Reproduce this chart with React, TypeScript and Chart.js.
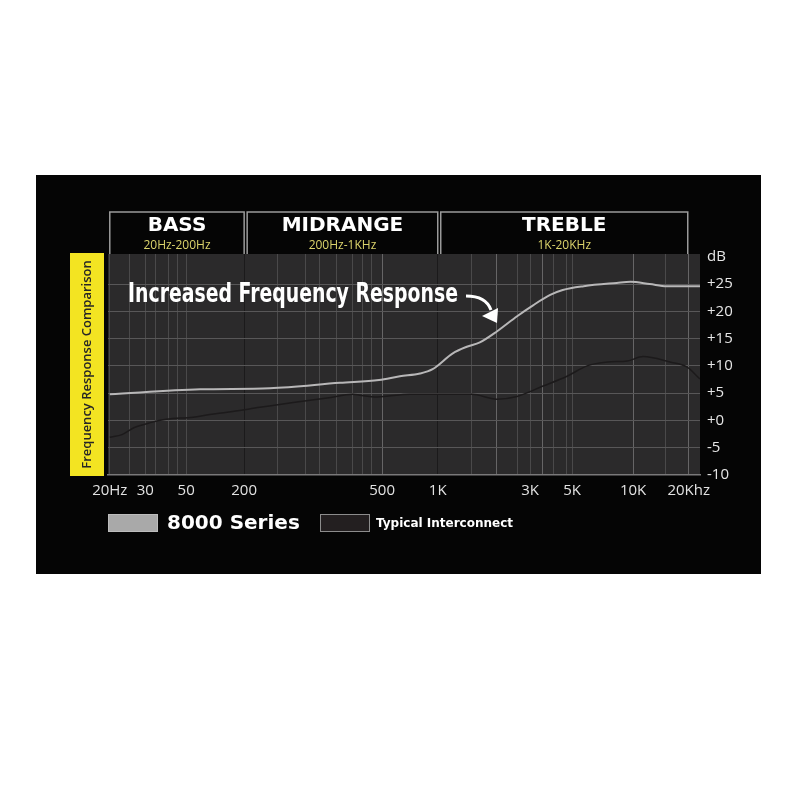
import { useEffect, useRef } from 'react';
import { Chart, registerables } from 'chart.js';

Chart.register(...registerables);

// The frequency axis is a hand-drawn, stretched log scale: labelled
// frequencies are pinned to positions (0-100 across the plot width).
const AXIS_FREQS = [20, 30, 50, 200, 500, 1000, 3000, 5000, 10000, 20000];
const AXIS_POS = [0.3, 6.3, 13.2, 23.0, 46.3, 55.7, 71.3, 78.4, 88.7, 98.1];
const AXIS_LABELS = ['20Hz', '30', '50', '200', '500', '1K', '3K', '5K', '10K', '20Khz'];
const GRID_FREQS = [
  20, 25, 30, 34, 40, 45, 50, 200, 250, 300, 330, 370, 410, 440, 465, 500,
  1000, 1500, 2000, 2570, 3000, 3500, 4000, 4650, 5000, 10000, 15000, 20000,
];

const DB_TICKS = [-10, -5, 0, 5, 10, 15, 20, 25, 30];
const DB_LABELS = ['-10', '-5', '+0', '+5', '+10', '+15', '+20', '+25', 'dB'];

// 8000 Series response
const SERIES_FREQS = [20, 70, 237, 378, 490, 624, 801, 938, 1196, 1413, 1650, 2020, 2570, 3110, 3830, 4460, 5700, 8300, 9700, 12300, 15200, 23000];
const SERIES_DB = [4.8, 5.7, 5.9, 6.9, 7.4, 8.1, 8.6, 9.4, 12.3, 13.5, 14.3, 16.3, 19.1, 21.1, 23.0, 23.9, 24.6, 25.2, 25.4, 25.0, 24.6, 24.6];

// Typical interconnect response
const TYPICAL_FREQS = [20, 23, 26.5, 32, 39, 59, 88, 133, 222, 277, 347, 412, 432, 484, 707, 1500, 2020, 2570, 3510, 4700, 5930, 7490, 9350, 11320, 15810, 19510, 23000];
const TYPICAL_DB = [-3.1, -2.6, -1.3, -0.4, 0.2, 0.6, 1.1, 1.5, 2.4, 3.3, 4.1, 4.8, 4.6, 4.3, 4.8, 4.8, 3.9, 4.4, 6.3, 8.1, 10.0, 10.7, 10.9, 11.7, 10.7, 9.8, 7.6];

const BAND_NAMES = ['BASS', 'MIDRANGE', 'TREBLE'];
const BAND_RANGES = ['20Hz-200Hz', '200Hz-1KHz', '1K-20KHz'];
const BAND_EDGES = [20, 200, 1000, 20000];

const SIDE_TITLE = 'Frequency Response Comparison';
const CALLOUT = 'Increased Frequency Response';

function freqToPos(f: number) {
  let i = 0;
  while (i < AXIS_FREQS.length - 2 && f > AXIS_FREQS[i + 1]) i++;
  const t = Math.log(f / AXIS_FREQS[i]) / Math.log(AXIS_FREQS[i + 1] / AXIS_FREQS[i]);
  return AXIS_POS[i] + t * (AXIS_POS[i + 1] - AXIS_POS[i]);
}

const xLabel = (f: number) => {
  const k = AXIS_FREQS.indexOf(f);
  return k >= 0 ? AXIS_LABELS[k] : '';
};

const xGridColor = (f: number) => {
  if (f === 200 || f === 1000) return '#1b1a1b';
  if (f === 500 || f === 2000 || f === 3500 || f === 10000 || f === 20000) return '#666566';
  return '#4a494a';
};

const decorPlugin = {
  id: 'decor',
  beforeDraw(chart: any) {
    const { ctx, chartArea: a, scales } = chart;
    const x = scales.x;
    ctx.save();
    ctx.fillStyle = '#ffffff';
    ctx.fillRect(0, 0, chart.width, chart.height);
    // black panel
    ctx.fillStyle = '#050505';
    ctx.fillRect(a.left - 72, a.top - 79, a.right - a.left + 133, a.bottom - a.top + 178);
    // plot background
    ctx.fillStyle = '#2b2a2b';
    ctx.fillRect(a.left, a.top, a.right - a.left, a.bottom - a.top);

    // yellow side strip
    ctx.fillStyle = '#f3e422';
    ctx.fillRect(a.left - 38, a.top - 1, 34, a.bottom - a.top + 2);
    ctx.save();
    ctx.translate(a.left - 21, (a.top + a.bottom) / 2);
    ctx.rotate(-Math.PI / 2);
    ctx.fillStyle = '#262626';
    ctx.font = '600 13px "Open Sans"';
    ctx.textAlign = 'center';
    ctx.textBaseline = 'middle';
    ctx.fillText(SIDE_TITLE, 0, 0);
    ctx.restore();

    // band header boxes
    const top = a.top - 42;
    BAND_NAMES.forEach((name, i) => {
      const l = x.getPixelForValue(freqToPos(BAND_EDGES[i])) + (i > 0 ? 3 : 0);
      const r = x.getPixelForValue(freqToPos(BAND_EDGES[i + 1])) - (i < BAND_NAMES.length - 1 ? 0 : 1);
      ctx.strokeStyle = '#9a9a9a';
      ctx.lineWidth = 1.5;
      ctx.beginPath();
      ctx.moveTo(l, a.top);
      ctx.lineTo(l, top);
      ctx.lineTo(r, top);
      ctx.lineTo(r, a.top);
      ctx.stroke();
      const cx = (l + r) / 2;
      ctx.textAlign = 'center';
      ctx.textBaseline = 'middle';
      ctx.fillStyle = '#ffffff';
      ctx.font = 'bold 20px "DejaVu Sans"';
      ctx.fillText(name, cx, top + 14);
      ctx.fillStyle = '#dcd46c';
      ctx.font = '12px "Open Sans"';
      ctx.fillText(BAND_RANGES[i], cx, top + 34);
    });
    ctx.restore();
  },
  afterDraw(chart: any) {
    const { ctx, chartArea: a } = chart;
    ctx.save();

    // callout text, squeezed to a condensed look
    ctx.font = 'bold 27px "Liberation Sans Narrow", "DejaVu Sans Condensed", "DejaVu Sans"';
    const w = ctx.measureText(CALLOUT).width;
    const target = 330;
    const tx = a.left + 20;
    const ty = a.top + 48;
    ctx.save();
    ctx.translate(tx, ty);
    ctx.scale(target / w, 1);
    ctx.fillStyle = '#ffffff';
    ctx.textBaseline = 'alphabetic';
    ctx.textAlign = 'left';
    ctx.fillText(CALLOUT, 0, 0);
    ctx.restore();

    // curved arrow to the rising curve
    const ax = tx + target + 8;
    const ay = ty - 6;
    ctx.strokeStyle = '#ffffff';
    ctx.fillStyle = '#ffffff';
    ctx.lineWidth = 3;
    ctx.beginPath();
    ctx.moveTo(ax, ay);
    ctx.quadraticCurveTo(ax + 20, ay, ax + 25, ay + 14);
    ctx.stroke();
    ctx.beginPath();
    ctx.moveTo(ax + 16, ay + 20);
    ctx.lineTo(ax + 32, ay + 12);
    ctx.lineTo(ax + 31, ay + 27);
    ctx.closePath();
    ctx.fill();

    // legend
    const ly = a.bottom + 39;
    const ds = chart.data.datasets;
    const itemX = [a.left, a.left + 212];
    const fonts = ['bold 20px "DejaVu Sans"', 'bold 12px "DejaVu Sans"'];
    ds.forEach((d: any, i: number) => {
      ctx.fillStyle = d.backgroundColor;
      ctx.fillRect(itemX[i], ly, 50, 18);
      ctx.strokeStyle = i === 0 ? '#bdbdbd' : '#8c8c8c';
      ctx.lineWidth = 1;
      ctx.strokeRect(itemX[i] + 0.5, ly + 0.5, 49, 17);
      ctx.fillStyle = '#ffffff';
      ctx.font = fonts[i];
      ctx.textAlign = 'left';
      ctx.textBaseline = 'middle';
      ctx.fillText(d.label, itemX[i] + (i === 0 ? 59 : 56), ly + 10);
    });
    ctx.restore();
  },
};

export default function App() {
  const canvasRef = useRef<HTMLCanvasElement | null>(null);
  const chartInstance = useRef<Chart | null>(null);

  useEffect(() => {
    if (!canvasRef.current) return;

    chartInstance.current = new Chart(canvasRef.current, {
      type: 'line',
      data: {
        datasets: [
          {
            label: '8000 Series',
            data: SERIES_FREQS.map((f, i) => ({ x: freqToPos(f), y: SERIES_DB[i] })),
            borderColor: '#b8b7b8',
            backgroundColor: '#a9a9a9',
            borderWidth: 2,
            pointRadius: 0,
            cubicInterpolationMode: 'monotone',
          },
          {
            label: 'Typical Interconnect',
            data: TYPICAL_FREQS.map((f, i) => ({ x: freqToPos(f), y: TYPICAL_DB[i] })),
            borderColor: '#1c1a1b',
            backgroundColor: '#231f20',
            borderWidth: 1.5,
            pointRadius: 0,
            cubicInterpolationMode: 'monotone',
          },
        ],
      },
      options: {
        responsive: false,
        animation: false,
        devicePixelRatio: 1,
        layout: { padding: { left: 108, top: 254, right: 39, bottom: 295 } },
        plugins: {
          legend: { display: false },
          tooltip: { enabled: false },
        },
        scales: {
          x: {
            type: 'linear',
            min: 0,
            max: 100,
            afterBuildTicks: (s: any) => {
              s.ticks = GRID_FREQS.map(f => ({ value: freqToPos(f) }));
            },
            afterFit: (s: any) => {
              s.height = 30;
            },
            grid: {
              color: (c: any) => xGridColor(GRID_FREQS[c.index]),
              lineWidth: 1,
              drawTicks: false,
            },
            border: { color: '#7a797a', width: 1.5 },
            ticks: {
              autoSkip: false,
              maxRotation: 0,
              padding: 7,
              color: '#e2e2e2',
              font: { family: 'Open Sans', size: 15 },
              callback: (_v: any, i: number) => xLabel(GRID_FREQS[i]),
            },
          },
          y: {
            type: 'linear',
            position: 'right',
            min: -10,
            max: 30.5,
            afterBuildTicks: (s: any) => {
              s.ticks = DB_TICKS.map(v => ({ value: v }));
            },
            afterFit: (s: any) => {
              s.width = 61;
            },
            grid: {
              color: (c: any) => (c.tick && (c.tick.value === 30 || c.tick.value === -10) ? 'rgba(0,0,0,0)' : '#585758'),
              lineWidth: 1,
              drawTicks: false,
            },
            border: { display: false },
            ticks: {
              padding: 7,
              color: '#e6e6e6',
              font: { family: 'Open Sans', size: 15 },
              callback: (_v: any, i: number) => DB_LABELS[i],
            },
          },
        },
      },
      plugins: [decorPlugin],
    } as any);

    return () => {
      if (chartInstance.current) {
        chartInstance.current.destroy();
        chartInstance.current = null;
      }
    };
  }, []);

  return (
    <div style={{ position: 'absolute', left: 0, top: 0, width: 800, height: 800, background: '#fff' }}>
      <canvas ref={canvasRef} width={800} height={800} />
    </div>
  );
}
